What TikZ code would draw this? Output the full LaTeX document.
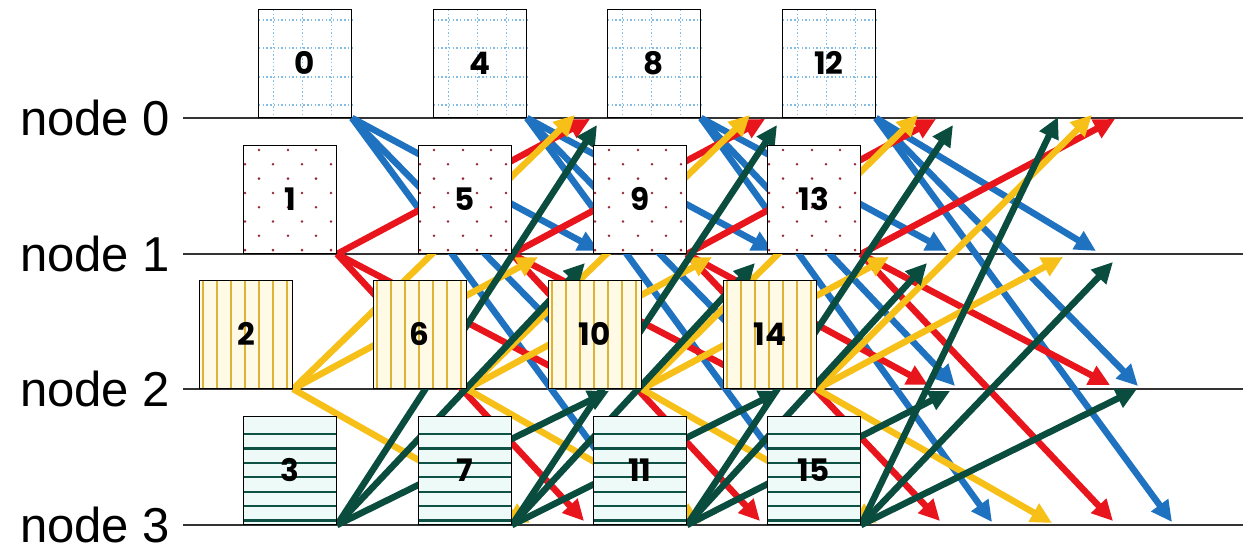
\documentclass[tikz,border=0pt]{standalone}
\usepackage{fontspec}
\setmainfont{Liberation Sans}
\newfontfamily\numfont{Poppins}
\usetikzlibrary{arrows.meta}
\pgfdeclarelayer{bg}
\pgfdeclarelayer{mid}
\pgfsetlayers{bg,mid,main}
\definecolor{cblue}{RGB}{30,114,192}
\definecolor{cred}{RGB}{232,22,28}
\definecolor{cyel}{RGB}{246,192,24}
\definecolor{cgrn}{RGB}{10,76,62}
\definecolor{gridblue}{RGB}{130,190,228}
\definecolor{dotred}{RGB}{150,40,55}
\definecolor{stripe}{RGB}{222,180,56}
\definecolor{cream}{RGB}{255,250,230}
\definecolor{hgreen}{RGB}{14,82,70}
\definecolor{mint}{RGB}{238,250,248}
\begin{document}
\begin{tikzpicture}[x=1pt,y=-1pt,
  boxbase/.style={draw=black, line width=1.3pt, minimum width=93pt, minimum height=108pt,
    inner sep=0pt, anchor=south east, font=\numfont\bfseries\fontsize{31}{31}\selectfont},
  gridline/.style={gridblue,line width=1.4pt,dash pattern=on 1.4pt off 2.3pt},
  lbl/.style={anchor=base west, inner sep=0pt, font=\fontsize{49}{49}\selectfont},
  hl/.style={draw=black!80, line width=1.3pt},
  arr/.style={line width=6.5pt, -{Triangle[length=21pt,width=20pt]}}
]
\useasboundingbox (0,0) rectangle (1243,550);

% row 0
\node[boxbase] (b0) at (352,118) {0};
\node[boxbase] (b4) at (527,118) {4};
\node[boxbase] (b8) at (701,118) {8};
\node[boxbase] (b12) at (876,118) {12};
% row 1
\node[boxbase] (b1) at (337,254) {1};
\node[boxbase] (b5) at (512,254) {5};
\node[boxbase] (b9) at (687,254) {9};
\node[boxbase] (b13) at (861,254) {13};
% row 2
\node[boxbase] (b2) at (293,389) {2};
\node[boxbase] (b6) at (467,389) {6};
\node[boxbase] (b10) at (642,389) {10};
\node[boxbase] (b14) at (817,389) {14};
% row 3
\node[boxbase] (b3) at (337,525) {3};
\node[boxbase] (b7) at (512,525) {7};
\node[boxbase] (b11) at (687,525) {11};
\node[boxbase] (b15) at (861,525) {15};

% box fills and patterns
\begin{pgfonlayer}{mid}
\foreach \rx in {352,527,701,876}{
  \begin{scope}[shift={({\rx-93},10)}]
    \fill[white] (0,0) rectangle (93,108);
    \foreach \f in {14.6,43.7,72.5} \draw[gridline] (\f,0) -- (\f,108);
    \foreach \g in {10,38,67,95} \draw[gridline] (0,\g) -- (93,\g);
  \end{scope}}
\foreach \rx in {337,512,687,861}{
  \begin{scope}[shift={({\rx-93},146)}]
    \fill[white] (0,0) rectangle (93,108);
    \foreach \j in {0,...,7}{
      \pgfmathsetmacro\yy{4+14.3*\j}
      \ifodd\j {\foreach \xx in {1,29,58,87} \fill[dotred] (\xx,\yy) circle (1.4pt);}
      \else {\foreach \xx in {15,44,72} \fill[dotred] (\xx,\yy) circle (1.4pt);}\fi
    }
  \end{scope}}
\foreach \rx in {293,467,642,817}{
  \begin{scope}[shift={({\rx-93},281)}]
    \fill[cream] (0,0) rectangle (93,108);
    \foreach \xx in {3,17,...,87} \draw[stripe,line width=2.5pt] (\xx,0) -- (\xx,108);
  \end{scope}}
\foreach \rx in {337,512,687,861}{
  \begin{scope}[shift={({\rx-93},417)}]
    \fill[mint] (0,0) rectangle (93,108);
    \foreach \k in {0,...,6} \draw[hgreen,line width=2.2pt] (0,{17+14.4*\k}) -- (93,{17+14.4*\k});
  \end{scope}}
\end{pgfonlayer}

\begin{pgfonlayer}{bg}
\foreach \i/\yy in {0/118,1/254,2/389,3/525}{
  \node[lbl] (lab\i) at (20,{\yy+17}) {node \i};
  \coordinate (ls\i) at (183,\yy);
  \coordinate (le\i) at (1243,\yy);
  \draw[hl] (ls\i) -- (le\i);
}
\foreach \s/\n/\xx/\yy/\c in {
  0/1/599/251/cblue, 0/2/614/386/cblue, 0/3/649/522/cblue,
  4/1/773/251/cblue, 4/2/789/386/cblue, 4/3/823/522/cblue,
  8/1/947/251/cblue, 8/2/955/386/cblue, 8/3/992/522/cblue,
  12/1/1096/251/cblue, 12/2/1138/386/cblue, 12/3/1172/522/cblue,
  1/0/590/119/cred, 1/2/586/385/cred, 1/3/584/521/cred,
  5/0/765/119/cred, 5/2/762/385/cred, 5/3/760/521/cred,
  9/0/936/119/cred, 9/2/928/385/cred, 9/3/940/521/cred,
  13/0/1115/119/cred, 13/2/1110/385/cred, 13/3/1113/521/cred,
  2/0/575/115/cyel, 2/1/538/257/cyel, 2/3/530/523/cyel,
  6/0/750/115/cyel, 6/1/712/257/cyel, 6/3/701/523/cyel,
  10/0/918/115/cyel, 10/1/889/257/cyel, 10/3/877/523/cyel,
  14/0/1092/115/cyel, 14/1/1063/257/cyel, 14/3/1052/523/cyel,
  3/0/597/125/cgrn, 3/1/585/263/cgrn, 3/2/609/391/cgrn,
  7/0/777/125/cgrn, 7/1/755/263/cgrn, 7/2/780/391/cgrn,
  11/0/953/125/cgrn, 11/1/927/263/cgrn, 11/2/950/391/cgrn,
  15/0/1058/117/cgrn, 15/1/1113/262/cgrn, 15/2/1137/389/cgrn}{
  \coordinate (t\s-\n) at (\xx,\yy);
  \draw[arr,\c] (b\s.south east) -- (t\s-\n);
}
\end{pgfonlayer}
\end{tikzpicture}
\end{document}
